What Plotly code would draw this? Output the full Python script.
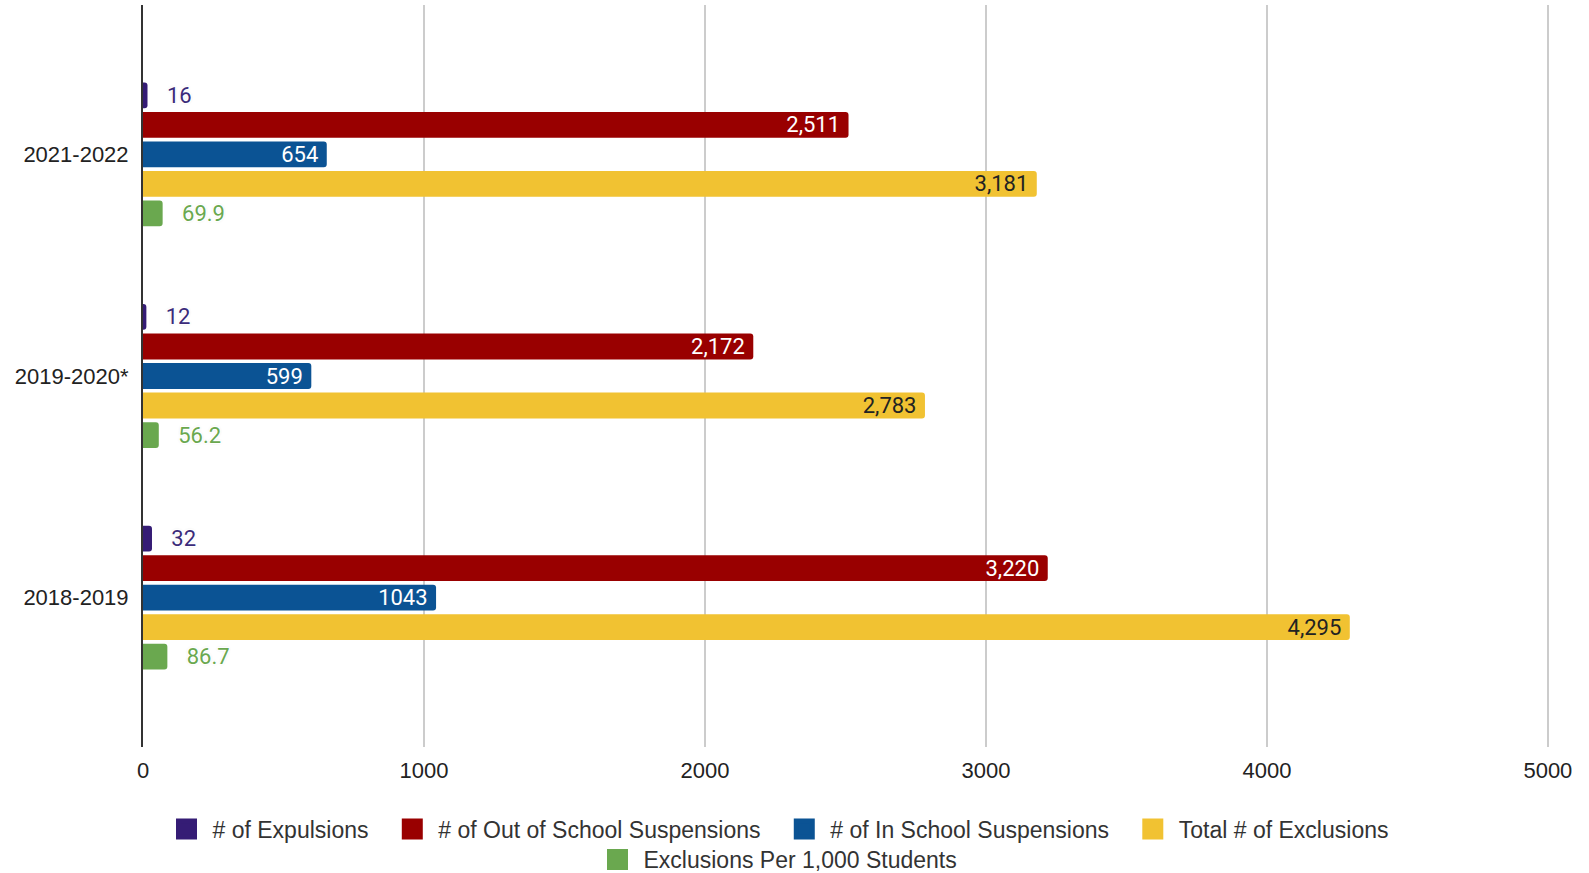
import plotly.graph_objects as go

# School years (top to bottom) and the disciplinary counts for each
years = ["2021-2022", "2019-2020*", "2018-2019"]
expulsions = [16, 12, 32]
out_of_school = [2511, 2172, 3220]
in_school = [654, 599, 1043]
total_exclusions = [3181, 2783, 4295]
per_1000 = [69.9, 56.2, 86.7]

x_ticks = [0, 1000, 2000, 3000, 4000, 5000]

NB = "\u00a0"
series = [
    dict(name="# of Expulsions", values=expulsions, color="#351c75",
         pos="outside", tmpl=NB * 3 + "%{x}", tcolor="#3b2b7a",
         legend="legend", pad=2),
    dict(name="# of Out of School Suspensions", values=out_of_school, color="#990000",
         pos="inside", tmpl="%{x:,}" + NB, tcolor="#ffffff",
         legend="legend", pad=2),
    dict(name="# of In School Suspensions", values=in_school, color="#0b5394",
         pos="inside", tmpl="%{x}" + NB, tcolor="#ffffff",
         legend="legend", pad=2),
    dict(name="Total # of Exclusions", values=total_exclusions, color="#f1c232",
         pos="inside", tmpl="%{x:,}" + NB, tcolor="#222222",
         legend="legend", pad=0),
    dict(name="Exclusions Per 1,000 Students", values=per_1000, color="#6aa84f",
         pos="outside", tmpl=NB * 3 + "%{x}", tcolor="#6aa84f",
         legend="legend2", pad=0),
]

HALO = ("1px 1px 0 #fff, -1px -1px 0 #fff, 1px -1px 0 #fff, -1px 1px 0 #fff, "
        "0 0 3px #d0d0d0")

fig = go.Figure()
for s in series:
    fig.add_trace(go.Bar(
        y=years, x=s["values"], orientation="h", name=s["name"],
        marker=dict(color=s["color"], line=dict(width=0)),
        texttemplate=s["tmpl"], textposition=s["pos"],
        insidetextanchor="end", constraintext="none", cliponaxis=False,
        textfont=dict(family="Roboto", size=22, color=s["tcolor"],
                      shadow=HALO if s["pos"] == "outside" else "none"),
        showlegend=False, hoverinfo="skip",
    ))

# legend swatches
for s in series:
    fig.add_trace(go.Scatter(
        x=[None], y=[None], mode="markers", name=s["name"] + NB * s["pad"],
        marker=dict(symbol="square", size=16, color=s["color"],
                    line=dict(color=s["color"], width=5)),
        legend=s["legend"], showlegend=True, hoverinfo="skip",
    ))

legend_common = dict(
    orientation="h", xref="container", yref="container",
    x=0.489, xanchor="center", yanchor="middle",
    font=dict(family="Liberation Sans", size=23, color="#333333"),
    itemwidth=42, bgcolor="rgba(0,0,0,0)", borderwidth=0,
    itemclick=False, itemdoubleclick=False,
)

fig.update_layout(
    width=1589, height=873,
    margin=dict(l=143, r=40, t=5, b=126, pad=0),
    paper_bgcolor="#ffffff", plot_bgcolor="#ffffff",
    barmode="group", bargap=0.334, bargroupgap=0.125, barcornerradius=3,
    legend=dict(legend_common, y=1 - 829 / 873),
    legend2=dict(legend_common, y=1 - 859.5 / 873),
    xaxis=dict(
        range=[0, 5004], tickvals=x_ticks, ticktext=[str(v) for v in x_ticks],
        showgrid=True, gridcolor="#cccccc", gridwidth=2, zeroline=False,
        ticks="", ticklabelstandoff=8, showline=False,
        tickfont=dict(family="Liberation Sans", size=22, color="#222222"),
    ),
    yaxis=dict(
        type="category", categoryorder="array", categoryarray=years,
        range=[2.674, -0.674], showgrid=False, zeroline=False,
        showline=True, linecolor="#333333", linewidth=2,
        ticks="", ticklabelstandoff=8,
        tickfont=dict(family="Liberation Sans", size=22, color="#222222"),
    ),
)

fig.write_html("out.html")
